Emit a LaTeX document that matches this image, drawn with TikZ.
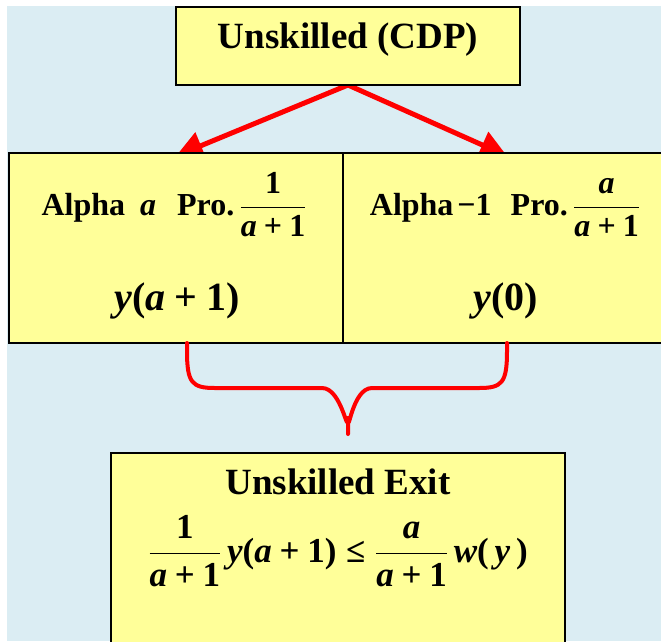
\RequirePackage{fix-cm}
\documentclass[tikz,border=0pt]{standalone}
\usepackage{fontspec}
\setmainfont{Liberation Serif}[BoldFont={Liberation Serif Bold}, ItalicFont={Liberation Serif Italic}, BoldItalicFont={Liberation Serif Bold Italic}]
\usetikzlibrary{arrows.meta,backgrounds}
\definecolor{bgblue}{RGB}{219,237,243}
\definecolor{boxyellow}{RGB}{255,255,153}
\newcommand{\vv}[1]{\mbox{\rmfamily\bfseries\itshape #1}}
\newcommand{\nn}[1]{\mbox{\rmfamily\bfseries #1}}
\newcommand{\pl}{\mathbin{\nn{+}}}
\tikzset{
  box/.style={draw=black, line width=1.5pt, fill=boxyellow, inner sep=0pt, outer sep=0pt},
  txt/.style={anchor=base, inner sep=0pt, outer sep=0pt, font=\rmfamily\fontsize{#1}{#1}\selectfont\bfseries},
  redarrow/.style={draw=red, line width=5pt, -{Triangle[length=27pt,width=28pt]}},
  bracepath/.style={draw=red, line width=4pt, line cap=round, line join=round}
}
\begin{document}
\begin{tikzpicture}[x=1pt,y=-1pt]
\useasboundingbox (0,0) rectangle (661,641);
\clip (0,0) rectangle (661,641);
% boxes
\node[box, minimum width=344pt, minimum height=78pt] (top) at (348,46) {};
\node[box, minimum width=334pt, minimum height=190pt] (left) at (176,248) {};
\node[box, minimum width=334pt, minimum height=190pt] (right) at (510,248) {};
\node[box, minimum width=454pt, minimum height=210pt] (bottom) at (338,558) {};
% texts
\node[txt=37] (toptext) at (348,48) {Unskilled (CDP)};
\node[txt=32] (l1) at (174,215) {Alpha\hspace{15pt}\textit{a}\hspace{21pt}Pro.\,$\displaystyle\frac{\nn{1}}{\vv{a}\pl\nn{1}}$};
\node[txt=40] (l2) at (177,310) {$\vv{y}\nn{(}\vv{a}\pl\nn{1}\nn{)}$};
\node[txt=32] (r1) at (505,215) {Alpha\hspace{4pt}−1\hspace{19pt}Pro.\,$\displaystyle\frac{\vv{a}}{\vv{a}\pl\nn{1}}$};
\node[txt=40] (r2) at (506,310) {$\vv{y}\nn{(}\nn{0}\nn{)}$};
\node[txt=37] (bt1) at (338,494) {Unskilled Exit};
\node[txt=35] (bt2) at (338,562) {$\displaystyle\frac{\nn{1}}{\vv{a}\pl\nn{1}}\,\vv{y}\nn{(}\vv{a}\pl\nn{1}\nn{)}\mathrel{\nn{≤}}\frac{\vv{a}}{\vv{a}\pl\nn{1}}\,\vv{w}\nn{(}\,\vv{y}\,\nn{)}$};
% background and arrows
\begin{scope}[on background layer]
  \fill[bgblue] (7,6) rectangle (661,641);
  \draw[redarrow] (top.south) -- ([yshift=-3pt]left.north);
  \draw[redarrow] (top.south) -- ([xshift=-3pt,yshift=-3pt]right.north);
\end{scope}
% brace
\draw[bracepath] ([xshift=11pt]left.south) -- ++(0,8) .. controls +(0,32) and (192,388) .. (215,388) -- (322,388) .. controls (342,388) and ([yshift=-20pt]top.south |- 0,418) .. (top.south |- 0,418) -- (top.south |- 0,434);
\draw[bracepath] ([xshift=-3pt]right.south) -- ++(0,8) .. controls +(0,32) and (502,388) .. (479,388) -- (372,388) .. controls (352,388) and ([yshift=-20pt]top.south |- 0,418) .. (top.south |- 0,418);
\end{tikzpicture}
\end{document}
